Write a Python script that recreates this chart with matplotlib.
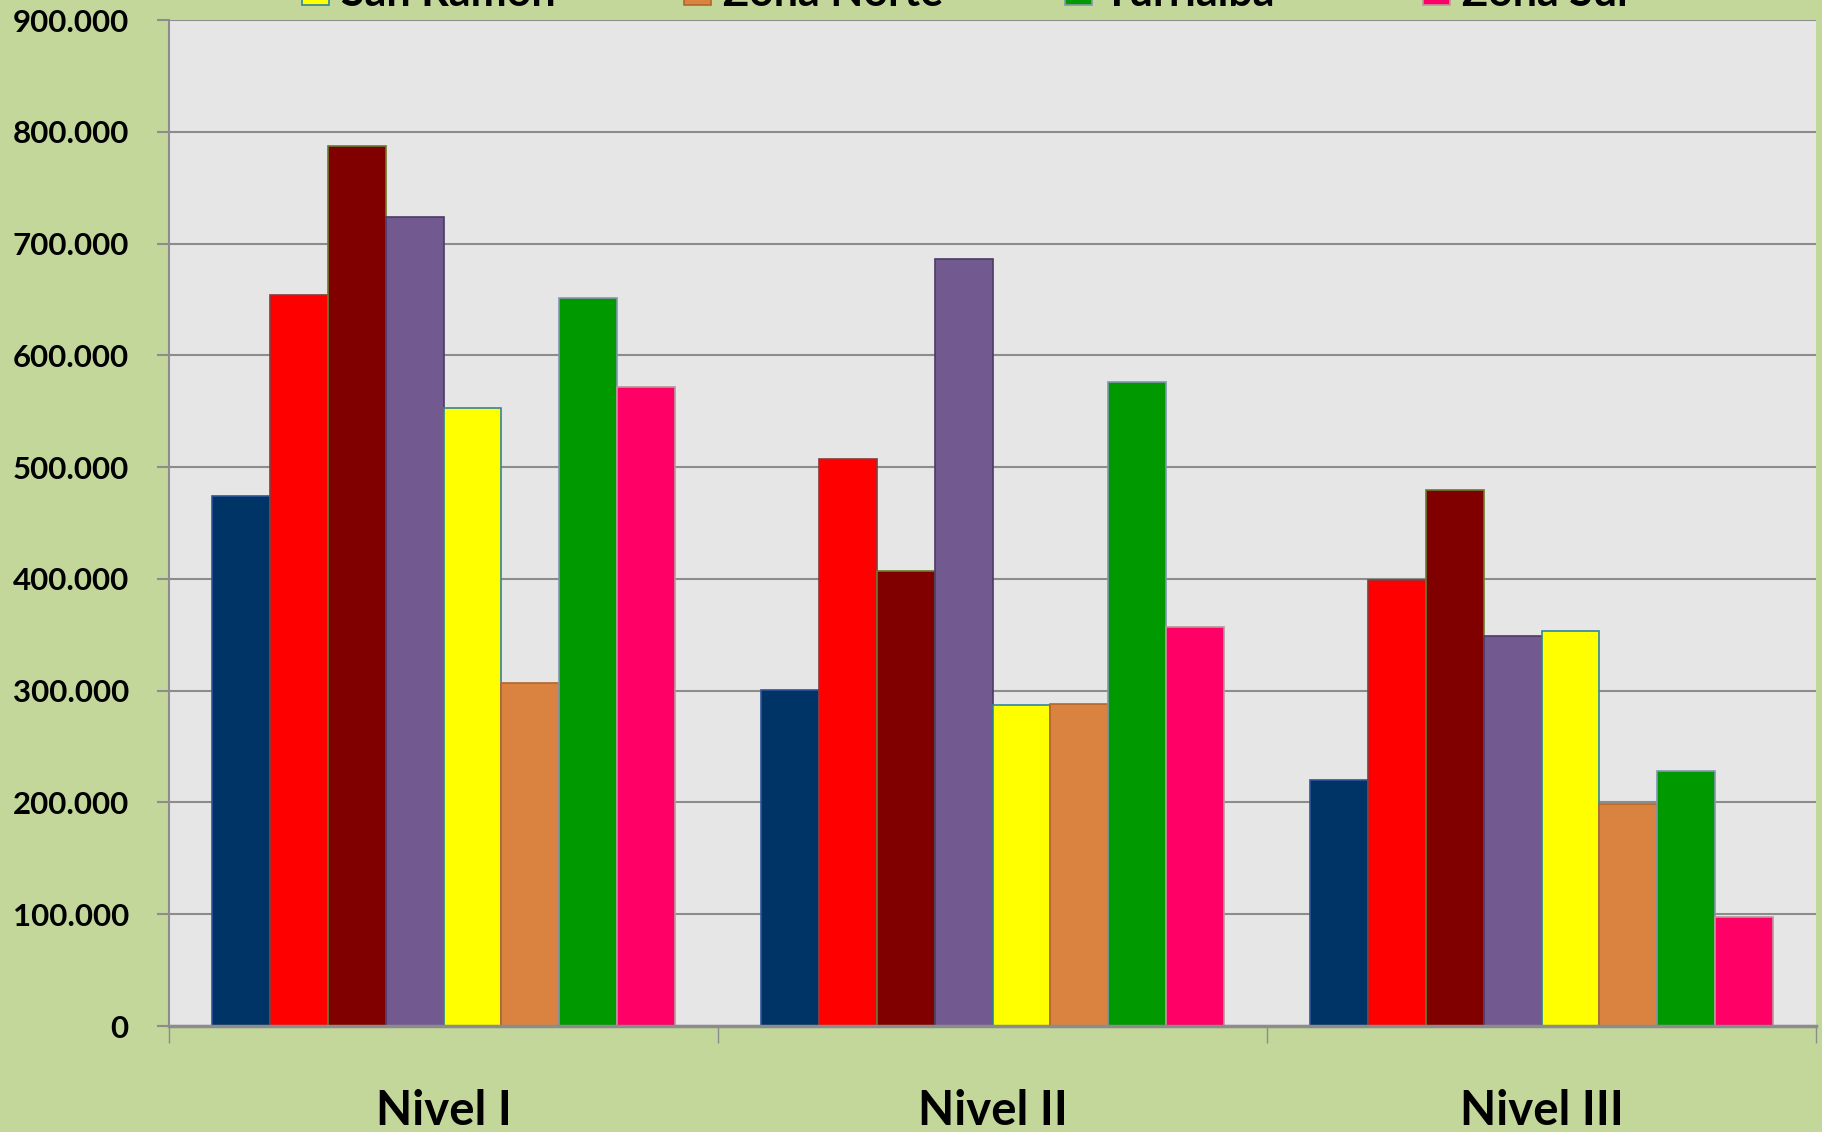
import matplotlib
matplotlib.use("Agg")
import matplotlib.pyplot as plt
import numpy as np

# --- data ---
niveles = ["Nivel I", "Nivel II", "Nivel III"]
series = ["San José", "Alajuela", "Heredia", "Cartago",
          "San Ramón", "Zona Norte", "Turrialba", "Zona Sur"]
valores = [
    [474000, 301000, 220000],
    [654000, 507000, 399000],
    [787000, 407000, 480000],
    [724000, 686000, 349000],
    [553000, 287000, 353000],
    [307000, 288000, 199000],
    [651000, 576000, 228000],
    [572000, 357000, 98000],
]
yticks = list(range(0, 900001, 100000))
yticklabels = ["0"] + [f"{v // 1000}.000" for v in yticks[1:]]

colores = ["#003366", "#FF0000", "#800000", "#725990",
           "#FFFF00", "#DA8340", "#009900", "#FF0066"]
bordes = ["#2F5597", "#8B3A3A", "#6B7B2B", "#4C3A66",
          "#31859C", "#B5652A", "#8496B0", "#B89A9A"]

plt.rcParams['font.family'] = ['Lato', 'DejaVu Sans']

fig = plt.figure(figsize=(18.22, 11.32), dpi=100, facecolor="#C4D79B")
ax = fig.add_axes([0.0928, 0.0936, 0.9039, 0.8887])
ax.set_facecolor("#E6E6E6")

x = np.arange(len(niveles))
ancho = 1 / 9.5
handles = []
for i, (nombre, vals) in enumerate(zip(series, valores)):
    pos = x - 4 * ancho + (i + 0.5) * ancho
    b = ax.bar(pos, vals, width=ancho, color=colores[i], edgecolor=bordes[i],
               linewidth=1.2, label=nombre, zorder=3)
    handles.append(b)

ax.set_xlim(-0.5, 2.5)
ax.set_ylim(0, 900000)
ax.set_yticks(yticks)
ax.set_yticklabels(yticklabels, fontsize=22.5, fontweight="bold")
ax.grid(axis="y", color="#8C8C8C", linewidth=1.5, zorder=0)
ax.set_axisbelow(True)

# category boundaries as major ticks, labels on minor ticks
ax.set_xticks([-0.5, 0.5, 1.5, 2.5])
ax.set_xticklabels([])
ax.set_xticks(x, minor=True)
ax.set_xticklabels(niveles, minor=True, fontsize=34, fontweight="bold")
ax.tick_params(axis="x", which="major", length=12, width=1, color="#8C8C8C")
ax.tick_params(axis="x", which="minor", length=0, pad=45)
ax.tick_params(axis="y", length=9, width=1.5, color="#8C8C8C", pad=20)

for s in ["top", "right"]:
    ax.spines[s].set_visible(False)
ax.spines["left"].set_color("#8C8C8C")
ax.spines["left"].set_linewidth(1.5)
ax.spines["bottom"].set_color("#8C8C8C")
ax.spines["bottom"].set_linewidth(2.5)
ax.spines["bottom"].set_zorder(4)

# legend: 4 columns, two rows each; the first row sits above the canvas
col_x = [0.1658, 0.3754, 0.5845, 0.7810]
for c, x0 in enumerate(col_x):
    par = [c, c + 4]
    leg = fig.legend([handles[k] for k in par], [series[k] for k in par],
                     loc="lower left", bbox_to_anchor=(x0, 0.9885),
                     frameon=False, prop={"size": 31, "weight": "bold"},
                     handlelength=0.62, handleheight=0.62, handletextpad=0.28,
                     borderpad=0, borderaxespad=0, labelspacing=0.3)

fig.savefig("out.png", dpi=100, facecolor=fig.get_facecolor())
